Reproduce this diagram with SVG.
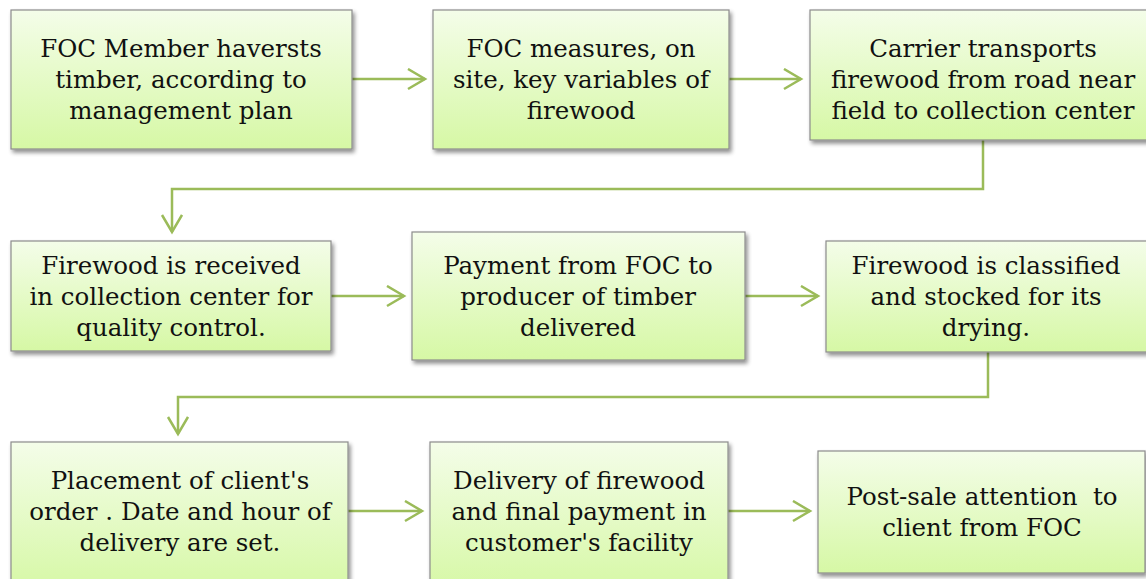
<svg xmlns="http://www.w3.org/2000/svg" width="1146" height="579" viewBox="0 0 1146 579">
<defs>
<linearGradient id="g" x1="0" y1="0" x2="0" y2="1">
<stop offset="0" stop-color="#f4fde9"/>
<stop offset="1" stop-color="#d6f8a5"/>
</linearGradient>
<filter id="sh" x="-5%" y="-5%" width="115%" height="120%">
<feGaussianBlur in="SourceAlpha" stdDeviation="2"/>
<feOffset dx="2" dy="3" result="b"/>
<feComponentTransfer><feFuncA type="linear" slope="0.45"/></feComponentTransfer>
<feMerge><feMergeNode/><feMergeNode in="SourceGraphic"/></feMerge>
</filter>
<marker id="ah" markerWidth="22" markerHeight="24" refX="19" refY="11" orient="auto" markerUnits="userSpaceOnUse">
<path d="M2,1 L19,11 L2,21" fill="none" stroke="#9bbb59" stroke-width="2.5"/>
</marker>
</defs>
<style>
.box{fill:url(#g);stroke:#8c8c8c;stroke-width:1.2;filter:url(#sh)}
.t{font-family:"DejaVu Serif","Liberation Serif",serif;font-size:24.5px;fill:#111;text-anchor:middle}
.c{fill:none;stroke:#9bbb59;stroke-width:2.5;marker-end:url(#ah)}
</style>
<rect width="1146" height="579" fill="#fff"/>
<g id="connectors">
<line class="c" x1="352" y1="79" x2="425" y2="79"/>
<line class="c" x1="729" y1="79" x2="801" y2="79"/>
<polyline class="c" points="983,140 983,189 172,189 172,232"/>
<line class="c" x1="331" y1="296" x2="404" y2="296"/>
<line class="c" x1="745" y1="296" x2="818" y2="296"/>
<polyline class="c" points="988,352 988,397 178,397 178,434"/>
<line class="c" x1="348" y1="511" x2="422" y2="511"/>
<line class="c" x1="728" y1="511" x2="810" y2="511"/>
</g>
<g id="n1"><rect class="box" x="11" y="10" width="341" height="139"/>
<text class="t"><tspan x="181" y="57">FOC Member haversts</tspan><tspan x="181" y="88">timber, according to</tspan><tspan x="181" y="119">management plan</tspan></text></g>
<g id="n2"><rect class="box" x="433" y="10" width="296" height="139"/>
<text class="t"><tspan x="581" y="57">FOC measures, on</tspan><tspan x="581" y="88">site, key variables of</tspan><tspan x="581" y="119">firewood</tspan></text></g>
<g id="n3"><rect class="box" x="810" y="10" width="346" height="130"/>
<text class="t"><tspan x="983" y="57">Carrier transports</tspan><tspan x="983" y="88">firewood from road near</tspan><tspan x="983" y="119">field to collection center</tspan></text></g>
<g id="n4"><rect class="box" x="11" y="241" width="320" height="110"/>
<text class="t"><tspan x="171" y="274">Firewood is received</tspan><tspan x="171" y="305">in collection center for</tspan><tspan x="171" y="336">quality control.</tspan></text></g>
<g id="n5"><rect class="box" x="412" y="232" width="333" height="128"/>
<text class="t"><tspan x="578" y="274">Payment from FOC to</tspan><tspan x="578" y="305">producer of timber</tspan><tspan x="578" y="336">delivered</tspan></text></g>
<g id="n6"><rect class="box" x="826" y="241" width="330" height="111"/>
<text class="t"><tspan x="986" y="274">Firewood is classified</tspan><tspan x="986" y="305">and stocked for its</tspan><tspan x="986" y="336">drying.</tspan></text></g>
<g id="n7"><rect class="box" x="11" y="442" width="337" height="150"/>
<text class="t"><tspan x="180" y="489">Placement of client's</tspan><tspan x="180" y="520">order . Date and hour of</tspan><tspan x="180" y="551">delivery are set.</tspan></text></g>
<g id="n8"><rect class="box" x="430" y="442" width="298" height="150"/>
<text class="t"><tspan x="579" y="489">Delivery of firewood</tspan><tspan x="579" y="520">and final payment in</tspan><tspan x="579" y="551">customer's facility</tspan></text></g>
<g id="n9"><rect class="box" x="818" y="451" width="327" height="122"/>
<text class="t"><tspan x="982" y="505" xml:space="preserve">Post-sale attention  to</tspan><tspan x="982" y="536">client from FOC</tspan></text></g>
</svg>
